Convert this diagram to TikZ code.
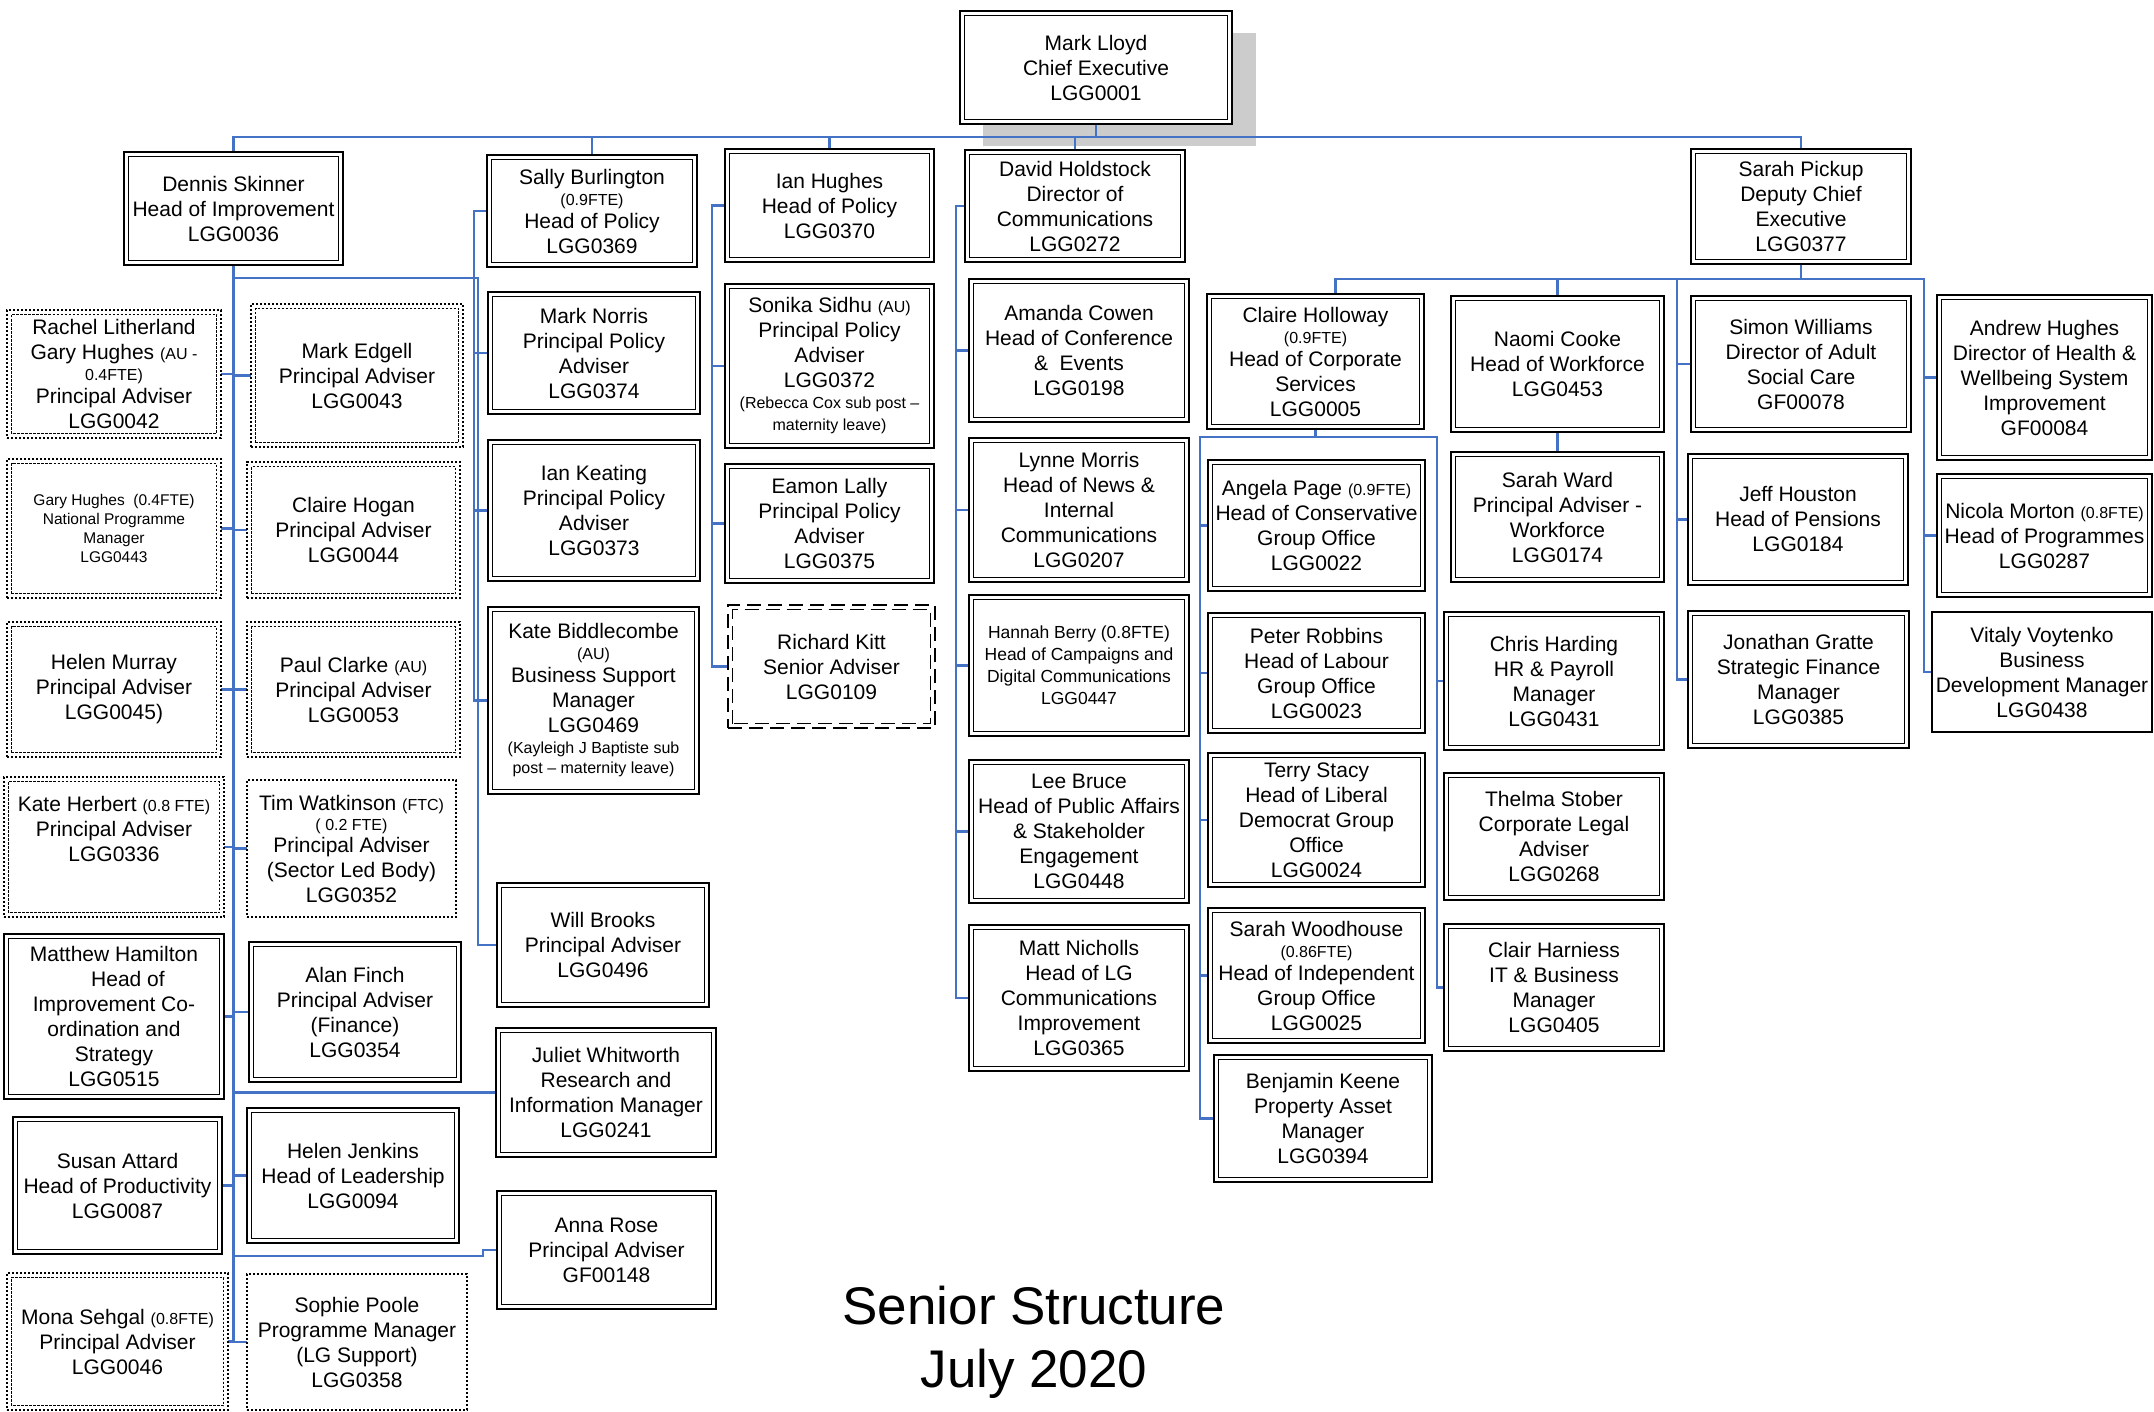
\documentclass[tikz,border=0pt]{standalone}
\usepackage{fontspec}
\setmainfont{Liberation Sans}
\usetikzlibrary{calc}
\definecolor{lineblue}{RGB}{68,114,196}
\definecolor{shadowgray}{RGB}{204,204,204}
\pgfdeclarelayer{back}
\pgfdeclarelayer{mid}
\pgfsetlayers{back,mid,main}
\newcommand\mainfs{\fontsize{21}{25}\selectfont}
\newcommand\garyfs{\fontsize{15.5}{19}\selectfont}
\newcommand\hbfs{\fontsize{17.5}{22}\selectfont}
\newcommand\sm[1]{{\fontsize{16}{19}\selectfont #1}}
\tikzset{
  orgbox/.style={rectangle, inner sep=0pt, outer sep=0pt, align=center, fill=white, font=\mainfs},
  bxdd/.style={orgbox, draw, line width=2.4pt},
  indd/.style={line width=1.2pt},
  bxdt/.style={orgbox, draw, line width=2.3pt, dash pattern=on 2.2pt off 1.8pt},
  indt/.style={line width=1.8pt, dash pattern=on 2.2pt off 1.8pt},
  bxst/.style={orgbox, draw, line width=2.3pt, dash pattern=on 2.2pt off 1.8pt},
  inst/.style={draw=none},
  bxdh/.style={orgbox, draw, line width=2.3pt, dash pattern=on 14pt off 7pt},
  indh/.style={line width=1.3pt, dash pattern=on 14pt off 7pt},
  bxss/.style={orgbox, draw, line width=2.4pt},
  inss/.style={draw=none},
  conn/.style={draw=lineblue, line width=2.1pt},
}
\newcommand\OB[8][]{%
  \pgfmathsetmacro\Bw{#6-#4}\pgfmathsetmacro\Bh{#7-#5}%
  \pgfmathsetmacro\Bx{(#4+#6)/2}\pgfmathsetmacro\By{(#5+#7)/2}%
  \node[bx#2, minimum width=\Bw pt, minimum height=\Bh pt, #1] (#3) at (\Bx,\By) {#8};%
  \draw[in#2] ([shift={(4.5pt,4.5pt)}]#3.south west) rectangle ([shift={(-4.5pt,-4.5pt)}]#3.north east);%
}
\begin{document}
\begin{tikzpicture}[x=1pt,y=-1pt]
\useasboundingbox (0,0) rectangle (2154,1412);
\begin{pgfonlayer}{back}
  \fill[shadowgray] (983,33) rectangle (1256,146);
\end{pgfonlayer}

% top level
\OB{dd}{ml}{960}{11}{1232}{124}{Mark Lloyd\\Chief Executive\\LGG0001}
\OB{dd}{dennis}{124}{152}{343}{265}{Dennis Skinner\\Head of Improvement\\LGG0036}
\OB{dd}{sally}{487}{155}{697}{267}{Sally Burlington\\[-4pt]\sm{(0.9FTE)}\\[-2pt]Head of Policy\\LGG0369}
\OB{dd}{ianh}{725}{149}{934}{262}{Ian Hughes\\Head of Policy\\LGG0370}
\OB{dd}{david}{965}{150}{1185}{262}{David Holdstock\\Director of\\Communications\\LGG0272}
\OB{dd}{sarahp}{1691}{149}{1911}{264}{Sarah Pickup\\Deputy Chief\\Executive\\LGG0377}

% Dennis Skinner team
\OB{dt}{rachel}{7}{310}{221}{438}{Rachel Litherland\\Gary Hughes \sm{(AU -}\\[-4pt]\sm{0.4FTE)}\\[-2pt]Principal Adviser\\LGG0042}
\OB{dt}{medgell}{251}{304}{463}{447}{Mark Edgell\\Principal Adviser\\LGG0043}
\OB[font=\garyfs]{dt}{garyh}{7}{459}{221}{598}{Gary Hughes~~(0.4FTE)\\National Programme\\Manager\\LGG0443}
\OB{dt}{chogan}{247}{462}{460}{598}{Claire Hogan\\Principal Adviser\\LGG0044}
\OB{dt}{hmurray}{7}{622}{221}{757}{Helen Murray\\Principal Adviser\\LGG0045)}
\OB{dt}{pclarke}{247}{622}{460}{757}{Paul Clarke \sm{(AU)}\\Principal Adviser\\LGG0053}
\OB{dt}{kherbert}{4}{777}{224}{917}{Kate Herbert \sm{(0.8 FTE)}\\Principal Adviser\\LGG0336\\[11pt]\mbox{}}
\OB{st}{tim}{247}{780}{456}{917}{Tim Watkinson \sm{(FTC)}\\[-5pt]\sm{( 0.2 FTE)}\\[-3pt]Principal Adviser\\(Sector Led Body)\\LGG0352}
\OB{dd}{matthew}{4}{934}{224}{1099}{Matthew Hamilton\\\hspace*{28pt}Head of\\Improvement Co-\\ordination and\\Strategy\\LGG0515}
\OB{dd}{alan}{249}{942}{461}{1082}{Alan Finch\\Principal Adviser\\(Finance)\\LGG0354}
\OB{dd}{susan}{13}{1117}{222}{1254}{Susan Attard\\Head of Productivity\\LGG0087}
\OB{dd}{hjenkins}{247}{1108}{459}{1243}{Helen Jenkins\\Head of Leadership\\LGG0094}
\OB{dt}{mona}{7}{1273}{228}{1410}{Mona Sehgal \sm{(0.8FTE)}\\Principal Adviser\\LGG0046}
\OB{st}{sophie}{247}{1274}{467}{1410}{Sophie Poole\\Programme Manager\\(LG Support)\\LGG0358}

% Sally Burlington column
\OB{dd}{mnorris}{488}{292}{700}{414}{Mark Norris\\Principal Policy\\Adviser\\LGG0374}
\OB{dd}{ikeating}{488}{440}{700}{581}{Ian Keating\\Principal Policy\\Adviser\\LGG0373}
\OB{dd}{kbidd}{488}{607}{699}{794}{Kate Biddlecombe\\[-4pt]\sm{(AU)}\\[-2pt]Business Support\\Manager\\LGG0469\\[-4pt]\sm{(Kayleigh J Baptiste sub}\\[-5pt]\sm{post – maternity leave)}}
\OB{dd}{willb}{497}{883}{709}{1007}{Will Brooks\\Principal Adviser\\LGG0496}
\OB{dd}{juliet}{496}{1028}{716}{1157}{Juliet Whitworth\\Research and\\Information Manager\\LGG0241}
\OB{dd}{arose}{497}{1191}{716}{1309}{Anna Rose\\Principal Adviser\\GF00148}

% Ian Hughes column
\OB{dd}{sonika}{725}{284}{934}{448}{Sonika Sidhu \sm{(AU)}\\Principal Policy\\Adviser\\LGG0372\\[-4pt]\sm{(Rebecca Cox sub post –}\\[-3pt]\sm{maternity leave)}}
\OB{dd}{eamon}{725}{464}{934}{583}{Eamon Lally\\Principal Policy\\Adviser\\LGG0375}
\OB{dh}{rkitt}{728}{605}{935}{728}{Richard Kitt\\Senior Adviser\\LGG0109}

% David Holdstock column
\OB{dd}{amanda}{969}{279}{1189}{422}{Amanda Cowen\\Head of Conference\\\&~ Events\\LGG0198}
\OB{dd}{lynne}{969}{438}{1189}{582}{Lynne Morris\\Head of News \&\\Internal\\Communications\\LGG0207}
\OB[font=\hbfs]{dd}{hannah}{969}{595}{1189}{736}{Hannah Berry (0.8FTE)\\Head of Campaigns and\\Digital Communications\\LGG0447}
\OB{dd}{lee}{969}{760}{1189}{903}{Lee Bruce\\Head of Public Affairs\\\& Stakeholder\\Engagement\\LGG0448}
\OB{dd}{matt}{969}{925}{1189}{1071}{Matt Nicholls\\Head of LG\\Communications\\Improvement\\LGG0365}

% Claire Holloway column
\OB{dd}{chol}{1207}{294}{1424}{429}{Claire Holloway\\[-4pt]\sm{(0.9FTE)}\\[-2pt]Head of Corporate\\Services\\LGG0005}
\OB{dd}{angela}{1208}{460}{1425}{591}{Angela Page \sm{(0.9FTE)}\\Head of Conservative\\Group Office\\LGG0022}
\OB{dd}{peter}{1208}{613}{1425}{733}{Peter Robbins\\Head of Labour\\Group Office\\LGG0023}
\OB{dd}{terry}{1208}{753}{1425}{887}{Terry Stacy\\Head of Liberal\\Democrat Group\\Office\\LGG0024}
\OB{dd}{sarahw}{1208}{908}{1425}{1043}{Sarah Woodhouse\\[-4pt]\sm{(0.86FTE)}\\[-2pt]Head of Independent\\Group Office\\LGG0025}
\OB{dd}{benj}{1214}{1055}{1432}{1182}{Benjamin Keene\\Property Asset\\Manager\\LGG0394}

% Naomi Cooke column
\OB{dd}{naomi}{1451}{296}{1664}{432}{Naomi Cooke\\Head of Workforce\\LGG0453}
\OB{dd}{sward}{1451}{452}{1664}{582}{Sarah Ward\\Principal Adviser -\\Workforce\\LGG0174}
\OB{dd}{chris}{1444}{612}{1664}{750}{Chris Harding\\HR \& Payroll\\Manager\\LGG0431}
\OB{dd}{thelma}{1444}{773}{1664}{900}{Thelma Stober\\Corporate Legal\\Adviser\\LGG0268}
\OB{dd}{clairh}{1444}{924}{1664}{1051}{Clair Harniess\\IT \& Business\\Manager\\LGG0405}

% Simon Williams column
\OB{dd}{simon}{1691}{296}{1911}{432}{Simon Williams\\Director of Adult\\Social Care\\GF00078}
\OB{dd}{jeff}{1688}{454}{1908}{585}{Jeff Houston\\Head of Pensions\\LGG0184}
\OB{dd}{jonathan}{1688}{611}{1909}{748}{Jonathan Gratte\\Strategic Finance\\Manager\\LGG0385}

% Andrew Hughes column
\OB{dd}{andrew}{1937}{295}{2152}{460}{Andrew Hughes\\Director of Health \&\\Wellbeing System\\Improvement\\GF00084}
\OB{dd}{nicola}{1937}{474}{2152}{597}{Nicola Morton \sm{(0.8FTE)}\\Head of Programmes\\LGG0287}
\OB{ss}{vitaly}{1932}{612}{2152}{732}{Vitaly Voytenko\\Business\\Development Manager\\LGG0438}

% title
\node[font=\fontsize{53}{63}\selectfont, align=center, inner sep=0pt] (title) at (1034,1342) {Senior Structure\\July 2020};

% connectors
\begin{pgfonlayer}{mid}
  \coordinate (tb) at (0,137);
  \draw[conn] (ml.south) -- (ml.south |- tb);
  \draw[conn] (dennis.north) |- (tb -| sarahp.north) -- (sarahp.north);
  \foreach \n in {sally,ianh,david} \draw[conn] (\n.north) -- (\n.north |- tb);
  % Dennis
  \draw[conn] (dennis.south) -- (dennis.south |- sophie.west);
  \foreach \n in {medgell,chogan,pclarke,tim,alan,hjenkins,sophie,juliet}
    \draw[conn] (dennis.south |- \n.west) -- (\n.west);
  \foreach \n in {rachel,garyh,hmurray,kherbert,matthew,susan,mona}
    \draw[conn] (\n.east) -- (\n.east -| dennis.south);
  \coordinate (wj) at (478,278);
  \draw[conn] (wj -| dennis.south) -- (wj) |- (willb.west);
  \coordinate (aj) at (483,1256);
  \draw[conn] (aj -| dennis.south) -- (aj) |- (arose.west);
  % Sally
  \coordinate (st) at (474,0);
  \draw[conn] (sally.west) -- (sally.west -| st) |- (kbidd.west);
  \foreach \n in {mnorris,ikeating} \draw[conn] (st |- \n.west) -- (\n.west);
  % Ian
  \coordinate (it) at (712,0);
  \draw[conn] (ianh.west) -- (ianh.west -| it) |- (rkitt.west);
  \foreach \n in {sonika,eamon} \draw[conn] (it |- \n.west) -- (\n.west);
  % David
  \coordinate (dvt) at (956,0);
  \draw[conn] (david.west) -- (david.west -| dvt) |- (matt.west);
  \foreach \n in {amanda,lynne,hannah,lee} \draw[conn] (dvt |- \n.west) -- (\n.west);
  % Sarah Pickup
  \coordinate (sb) at (0,279);
  \coordinate (rt) at (1924,0);
  \coordinate (smt) at (1677,0);
  \draw[conn] (sarahp.south) -- (sarahp.south |- sb);
  \draw[conn] ([xshift=20pt]chol.north) |- (sb -| rt) |- (vitaly.west);
  \foreach \n in {andrew,nicola} \draw[conn] (rt |- \n.west) -- (\n.west);
  \draw[conn] (sb -| smt) |- (jonathan.west);
  \foreach \n in {simon,jeff} \draw[conn] (smt |- \n.west) -- (\n.west);
  \draw[conn] (naomi.north) -- (naomi.north |- sb);
  \draw[conn] (naomi.south) -- (sward.north);
  % Claire Holloway
  \coordinate (cb) at (0,437);
  \coordinate (clt) at (1200,0);
  \coordinate (crt) at (1437,0);
  \draw[conn] (chol.south) -- (chol.south |- cb);
  \draw[conn] (benj.west) -| (cb -| clt) -- (cb -| crt) |- (clairh.west);
  \foreach \n in {angela,peter,terry,sarahw} \draw[conn] (clt |- \n.west) -- (\n.west);
  \draw[conn] (crt |- chris.west) -- (chris.west);
\end{pgfonlayer}
\end{tikzpicture}
\end{document}
